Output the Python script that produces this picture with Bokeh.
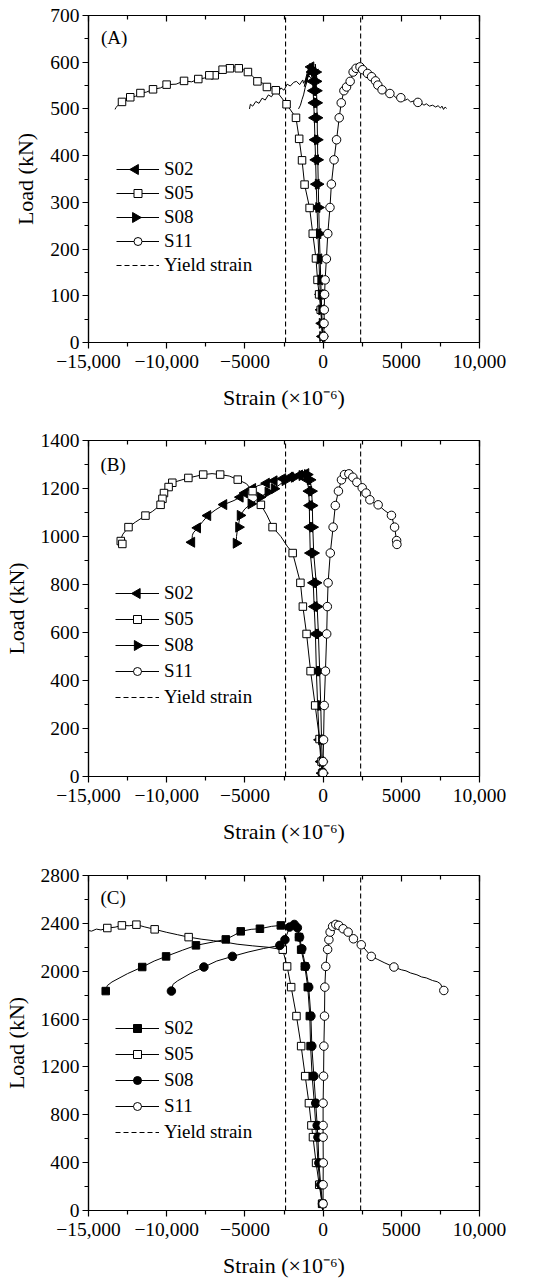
import math
from bokeh.plotting import figure
from bokeh.models import (Range1d, LinearAxis, FixedTicker, Legend, LegendItem, Label,
                          CustomLabelingPolicy)
from bokeh.layouts import column
from bokeh.embed import file_html
from bokeh.resources import INLINE

FONT = "Liberation Serif"
FIG_W = 556

# ---------------- axes / ticks ----------------
X_MIN, X_MAX = -15000, 10000
X_TICKS = [-15000, -10000, -5000, 0, 5000, 10000]
X_MINOR = [-12500, -7500, -2500, 2500, 7500]
X_LABELS = ["\u221215,000", "\u221210,000", "\u22125000", "0", "5000", "10,000"]
YIELD_STRAIN = 2400

A_YTICKS = [0, 100, 200, 300, 400, 500, 600, 700]
A_YMINOR = [50, 150, 250, 350, 450, 550, 650]
B_YTICKS = [0, 200, 400, 600, 800, 1000, 1200, 1400]
B_YMINOR = [100, 300, 500, 700, 900, 1100, 1300]
C_YTICKS = [0, 400, 800, 1200, 1600, 2000, 2400, 2800]
C_YMINOR = [200, 600, 1000, 1400, 1800, 2200, 2600]

SERIES = ["S02", "S05", "S08", "S11"]

# ---------------- data: (strain, load, marker shown) ----------------
# Panel A
A_S02 = [(-20, 0, 0), (-60, 13, 1), (-100, 41, 1), (-140, 70, 1), (-180, 103, 1), (-220, 134, 1),
         (-270, 179, 1), (-330, 233, 1), (-390, 289, 1), (-440, 339, 1), (-480, 391, 1), (-520, 434, 1),
         (-560, 481, 1), (-600, 513, 1), (-640, 539, 1), (-680, 559, 1), (-720, 579, 1), (-780, 590, 1),
         (-950, 570, 0), (-700, 595, 0), (-1100, 555, 0), (-850, 585, 0), (-1200, 548, 0), (-1000, 575, 0),
         (-650, 560, 0), (-900, 592, 0), (-1150, 560, 0), (-800, 578, 0), (-1250, 555, 0),
         (-1300, 562, 0), (-1500, 552, 0), (-1700, 559, 0), (-1876, 557, 0), (-2100, 549, 0), (-2300, 553, 0),
         (-2500, 540, 0), (-2700, 545, 0), (-2900, 533, 0), (-3100, 537, 0), (-3300, 526, 0), (-3500, 530, 0),
         (-3700, 519, 0), (-3900, 523, 0), (-4100, 512, 0), (-4300, 516, 0), (-4500, 506, 0), (-4650, 510, 0),
         (-4707, 500, 0)]
A_S05 = [(-10, 0, 0), (-60, 41, 0), (-152, 70, 1), (-255, 103, 1), (-357, 134, 1), (-455, 180, 1),
         (-660, 233, 1), (-862, 288, 1), (-1184, 338, 1), (-1347, 390, 1), (-1530, 436, 1), (-1733, 481, 1),
         (-2337, 510, 1), (-3026, 540, 1), (-3300, 545, 0), (-3592, 547, 1), (-3900, 556, 0), (-4199, 559, 1),
         (-4500, 570, 0), (-4806, 579, 1), (-5100, 584, 0), (-5393, 587, 1), (-5700, 590, 0), (-5959, 587, 1),
         (-6200, 592, 0), (-6425, 584, 1), (-6700, 578, 0), (-6929, 572, 1), (-7275, 572, 1), (-7600, 566, 0),
         (-7980, 564, 1), (-8400, 558, 0), (-8891, 560, 1), (-9400, 553, 0), (-10005, 552, 1), (-10400, 545, 0),
         (-10874, 542, 1), (-11300, 536, 0), (-11681, 534, 1), (-12000, 527, 0), (-12330, 525, 1),
         (-12600, 518, 0), (-12858, 515, 1), (-13100, 508, 0), (-13250, 503, 0), (-13300, 499, 0)]
A_S08 = [(-10, 0, 0), (-30, 13, 1), (-60, 41, 1), (-90, 70, 1), (-120, 103, 1), (-150, 134, 1),
         (-190, 179, 1), (-240, 233, 1), (-280, 289, 1), (-310, 339, 1), (-340, 391, 1), (-360, 434, 1),
         (-380, 481, 1), (-400, 513, 1), (-420, 539, 1), (-440, 559, 1), (-460, 579, 1),
         (-500, 596, 0), (-380, 560, 0), (-620, 592, 0), (-420, 575, 0), (-760, 597, 0), (-560, 570, 0),
         (-300, 585, 0), (-680, 580, 0), (-862, 597, 0), (-950, 580, 0), (-1000, 562, 0), (-1150, 545, 0),
         (-1250, 530, 0), (-1350, 520, 0), (-1450, 508, 0), (-1571, 500, 0)]
A_S11 = [(0, 0, 0), (40, 13, 1), (60, 41, 1), (75, 70, 1), (95, 103, 1), (130, 134, 1), (210, 179, 1),
         (300, 233, 1), (440, 289, 1), (530, 339, 1), (700, 391, 1), (860, 434, 1), (1030, 481, 1),
         (1160, 513, 1), (1330, 539, 1), (1500, 547, 1), (1730, 559, 1), (1920, 579, 1), (2110, 587, 1),
         (2360, 590, 1), (2530, 584, 1), (2840, 576, 1), (3100, 569, 1), (3350, 560, 1), (3500, 551, 1),
         (3770, 541, 1), (4000, 538, 0), (4270, 533, 1), (4500, 529, 0), (4700, 523, 0), (4970, 524, 1),
         (5200, 518, 0), (5400, 521, 0), (5600, 515, 0), (5800, 517, 0), (6060, 514, 1), (6300, 512, 0),
         (6450, 508, 0), (6600, 511, 0), (6800, 506, 0), (7000, 508, 0), (7200, 504, 0), (7350, 507, 0),
         (7500, 502, 0), (7600, 506, 0), (7700, 499, 0), (7800, 504, 0), (7900, 501, 0)]

# Panel B
B_S02 = [(-30, 0, 0), (-80, 14, 1), (-140, 62, 1), (-240, 153, 1), (-350, 296, 1), (-430, 439, 1),
         (-490, 594, 1), (-570, 708, 1), (-630, 807, 1), (-820, 931, 1), (-860, 1039, 1), (-880, 1129, 1),
         (-920, 1189, 1), (-1000, 1236, 1), (-1100, 1262, 1), (-1300, 1258, 0), (-1500, 1256, 1),
         (-1800, 1250, 0), (-2100, 1248, 1), (-2578, 1241, 1), (-3130, 1232, 1), (-3623, 1222, 1),
         (-4156, 1212, 0), (-4500, 1200, 1), (-4807, 1192, 0), (-5004, 1181, 1), (-5300, 1164, 1),
         (-5695, 1150, 0), (-6346, 1133, 1), (-6900, 1110, 0), (-7372, 1087, 1), (-7700, 1062, 0),
         (-8023, 1036, 1), (-8300, 1015, 0), (-8358, 1005, 0), (-8398, 976, 1)]
B_S05 = [(-20, 0, 0), (-60, 14, 1), (-100, 62, 1), (-227, 156, 1), (-507, 296, 1), (-800, 439, 1),
         (-1057, 594, 1), (-1294, 708, 1), (-1451, 807, 1), (-1945, 931, 1), (-2300, 960, 0),
         (-2700, 1000, 0), (-3229, 1039, 1), (-3600, 1090, 0), (-3978, 1132, 1), (-4200, 1165, 0),
         (-4511, 1189, 1), (-4900, 1220, 0), (-5458, 1237, 1), (-6000, 1252, 0), (-6583, 1258, 1),
         (-7100, 1262, 0), (-7668, 1258, 1), (-8615, 1244, 1), (-9641, 1224, 1), (-9878, 1206, 1),
         (-10174, 1181, 1), (-10272, 1157, 1), (-10391, 1132, 1), (-10900, 1105, 0), (-11358, 1087, 1),
         (-12000, 1060, 0), (-12443, 1039, 1), (-12800, 1010, 0), (-12900, 995, 0), (-12936, 981, 1),
         (-12837, 969, 1)]
B_S08 = [(-10, 0, 0), (-30, 14, 1), (-50, 62, 1), (-100, 153, 1), (-150, 296, 1), (-220, 439, 1),
         (-300, 594, 1), (-380, 708, 1), (-440, 807, 1), (-600, 931, 1), (-660, 1039, 1), (-690, 1129, 1),
         (-730, 1189, 1), (-820, 1236, 1), (-1000, 1258, 1), (-1150, 1265, 0), (-1353, 1254, 1),
         (-1846, 1247, 1), (-2439, 1233, 1), (-2800, 1215, 0), (-3130, 1199, 1), (-3525, 1185, 1),
         (-4020, 1164, 1), (-4300, 1150, 0), (-4612, 1136, 1), (-5000, 1115, 0), (-5303, 1088, 1),
         (-5380, 1060, 0), (-5400, 1039, 1), (-5500, 1018, 0), (-5537, 1000, 0), (-5560, 972, 1)]
B_S11 = [(0, 0, 0), (0, 14, 1), (0, 62, 1), (30, 153, 1), (70, 296, 1), (150, 439, 1), (230, 594, 1),
         (270, 708, 1), (320, 807, 1), (460, 931, 1), (640, 1039, 1), (780, 1129, 1), (980, 1189, 1),
         (1175, 1236, 1), (1370, 1258, 1), (1650, 1261, 1), (1900, 1247, 1), (2160, 1226, 1),
         (2500, 1203, 1), (2750, 1181, 1), (2990, 1153, 1), (3250, 1140, 0), (3520, 1132, 1),
         (3900, 1110, 0), (4370, 1088, 1), (4570, 1039, 1), (4700, 983, 1), (4720, 967, 1)]

# Panel C
C_S02 = [(-30, 0, 0), (-60, 56, 1), (-200, 215, 1), (-330, 398, 1), (-420, 613, 1), (-470, 711, 1),
         (-560, 897, 1), (-700, 1123, 1), (-800, 1374, 1), (-850, 1625, 1), (-980, 1867, 1),
         (-1170, 2040, 1), (-1405, 2180, 1), (-1544, 2285, 1), (-1800, 2370, 0), (-2000, 2395, 0),
         (-2300, 2388, 0), (-2703, 2383, 1), (-3300, 2375, 0), (-4039, 2355, 1), (-4600, 2350, 0),
         (-5267, 2333, 1), (-5700, 2300, 0), (-6221, 2266, 1), (-7000, 2245, 0), (-8130, 2216, 1),
         (-9000, 2175, 0), (-10038, 2124, 1), (-10800, 2085, 0), (-11565, 2035, 1), (-12500, 1980, 0),
         (-13500, 1910, 0), (-13800, 1880, 0), (-13899, 1834, 1)]
C_S05 = [(-20, 0, 0), (-60, 56, 1), (-249, 215, 1), (-448, 398, 1), (-647, 613, 1), (-747, 711, 1),
         (-906, 897, 1), (-1145, 1123, 1), (-1404, 1374, 1), (-1703, 1625, 1), (-2042, 1867, 1),
         (-2301, 2040, 1), (-2580, 2180, 1), (-3500, 2200, 0), (-4500, 2212, 0), (-5500, 2226, 0),
         (-6125, 2240, 0), (-7000, 2255, 0), (-7800, 2268, 0), (-8598, 2285, 1), (-9300, 2305, 0),
         (-10000, 2325, 0), (-10771, 2350, 1), (-11400, 2370, 0), (-11935, 2389, 1), (-12400, 2380, 0),
         (-12866, 2383, 1), (-13300, 2368, 0), (-13797, 2361, 1), (-14200, 2345, 0), (-14500, 2352, 0),
         (-14800, 2335, 0), (-15000, 2340, 0)]
C_S08 = [(-20, 0, 0), (-40, 56, 1), (-150, 215, 1), (-270, 398, 1), (-330, 613, 1), (-380, 711, 1),
         (-470, 897, 1), (-590, 1123, 1), (-720, 1374, 1), (-780, 1625, 1), (-920, 1867, 1),
         (-1120, 2040, 1), (-1360, 2188, 1), (-1504, 2285, 1), (-1643, 2363, 1), (-1842, 2391, 1),
         (-2141, 2369, 1), (-2440, 2263, 1), (-2766, 2216, 1), (-3800, 2190, 0), (-4800, 2160, 0),
         (-5798, 2124, 1), (-6800, 2085, 0), (-7621, 2035, 1), (-8500, 1980, 0), (-9300, 1920, 0),
         (-9600, 1890, 0), (-9699, 1834, 1)]
C_S11 = [(0, 0, 0), (0, 56, 1), (0, 215, 1), (10, 398, 1), (0, 613, 1), (0, 711, 1), (0, 897, 1),
         (30, 1123, 1), (50, 1374, 1), (90, 1625, 1), (110, 1867, 1), (170, 2040, 1), (290, 2182, 1),
         (370, 2263, 1), (450, 2327, 1), (610, 2375, 1), (810, 2391, 1), (1000, 2383, 1), (1280, 2355, 1),
         (1600, 2327, 1), (1940, 2271, 1), (2440, 2221, 1), (3080, 2124, 1), (3500, 2098, 0),
         (3900, 2072, 0), (4530, 2035, 1), (5000, 2012, 0), (5300, 2003, 0), (5600, 1985, 0),
         (6000, 1970, 0), (6300, 1952, 0), (6600, 1944, 0), (7000, 1922, 0), (7300, 1912, 0),
         (7500, 1895, 0), (7720, 1839, 1)]

PANELS = [
    dict(tag="(A)", tag_x=-14200, tag_y=653, ymax=700, yt=A_YTICKS, ym=A_YMINOR,
         data=[A_S02, A_S05, A_S08, A_S11],
         markers=["tri_left", "sq_open", "tri_right", "ci_open"],
         height=430, bl=77, br=67, bt=15, bb=88, leg=(28, 65), row=24, gw=43),
    dict(tag="(B)", tag_x=-14237, tag_y=1300, ymax=1400, yt=B_YTICKS, ym=B_YMINOR,
         data=[B_S02, B_S05, B_S08, B_S11],
         markers=["tri_left", "sq_open", "tri_right", "ci_open"],
         height=430, bl=86, br=77, bt=10, bb=84, leg=(27, 66), row=26, gw=44),
    dict(tag="(C)", tag_x=-14237, tag_y=2613, ymax=2800, yt=C_YTICKS, ym=C_YMINOR,
         data=[C_S02, C_S05, C_S08, C_S11],
         markers=["sq_fill", "sq_open", "ci_fill", "ci_open"],
         height=425, bl=86, br=77, bt=15, bb=75, leg=(27, 65), row=26, gw=44),
]

MARKER_STYLE = {
    "tri_left": dict(marker="triangle", angle=math.pi / 2, size=10, fill_color="black"),
    "tri_right": dict(marker="triangle", angle=-math.pi / 2, size=10, fill_color="black"),
    "sq_open": dict(marker="square", angle=0, size=7.5, fill_color="white"),
    "sq_fill": dict(marker="square", angle=0, size=7.5, fill_color="black"),
    "ci_open": dict(marker="circle", angle=0, size=8.5, fill_color="white"),
    "ci_fill": dict(marker="circle", angle=0, size=8.5, fill_color="black"),
}

NO_LABELS = CustomLabelingPolicy(code="return []")


def style_axis(ax, side):
    ax.axis_line_color = "black"
    ax.axis_line_width = 1.2
    ax.major_tick_line_color = "black"
    ax.minor_tick_line_color = "black"
    ax.major_tick_line_width = 1.2
    ax.minor_tick_line_width = 1.2
    if side in ("left", "below"):
        ax.major_tick_out = 6
        ax.major_tick_in = 0
        ax.minor_tick_out = 4
        ax.minor_tick_in = 0
        ax.major_label_text_font = FONT
        ax.major_label_text_font_size = "19.5px"
        ax.major_label_text_color = "black"
        ax.axis_label_text_font = FONT
        ax.axis_label_text_font_size = "22px"
        ax.axis_label_text_font_style = "normal"
        ax.axis_label_text_color = "black"
    else:
        ax.major_tick_out = 0
        ax.major_tick_in = 6
        ax.minor_tick_out = 0
        ax.minor_tick_in = 4
        ax.major_label_policy = NO_LABELS
        ax.major_label_text_font_size = "1px"
        ax.major_label_standoff = 0


def build(cfg):
    p = figure(width=FIG_W, height=cfg["height"],
               x_range=Range1d(X_MIN, X_MAX), y_range=Range1d(0, cfg["ymax"]),
               output_backend="svg", toolbar_location=None,
               min_border_left=cfg["bl"], min_border_right=cfg["br"],
               min_border_top=cfg["bt"], min_border_bottom=cfg["bb"])
    p.grid.visible = False
    p.outline_line_color = "black"
    p.outline_line_width = 1.2
    p.background_fill_color = "white"
    p.border_fill_color = "white"

    xax = p.xaxis[0]
    xax.ticker = FixedTicker(ticks=X_TICKS, minor_ticks=X_MINOR)
    xax.major_label_overrides = {t: l for t, l in zip(X_TICKS, X_LABELS)}
    xax.axis_label = "Strain (\u00d710\u207b\u2076)"
    style_axis(xax, "below")
    xax.major_label_standoff = 6
    xax.axis_label_standoff = 14
    yax = p.yaxis[0]
    yax.ticker = FixedTicker(ticks=cfg["yt"], minor_ticks=cfg["ym"])
    yax.axis_label = "Load (kN)"
    style_axis(yax, "left")
    yax.major_label_standoff = 3
    yax.axis_label_standoff = 9

    top = LinearAxis(ticker=FixedTicker(ticks=X_TICKS, minor_ticks=X_MINOR))
    style_axis(top, "above")
    p.add_layout(top, "above")
    right = LinearAxis(ticker=FixedTicker(ticks=cfg["yt"], minor_ticks=cfg["ym"]))
    style_axis(right, "right")
    p.add_layout(right, "right")

    ymax = cfg["ymax"]
    y1 = p.line([-YIELD_STRAIN, -YIELD_STRAIN], [0, ymax], line_color="black",
                line_width=1.1, line_dash="5 3")
    p.line([YIELD_STRAIN, YIELD_STRAIN], [0, ymax], line_color="black",
           line_width=1.1, line_dash="5 3")

    # legend geometry (screen px from frame bottom-left) -> data units, for rotated markers
    frame_w = FIG_W - cfg["bl"] - cfg["br"]
    frame_h = cfg["height"] - cfg["bt"] - cfg["bb"]
    lx, ly = cfg["leg"]
    nrows = len(SERIES) + 1

    items = []
    for i, (name, pts, mk) in enumerate(zip(SERIES, cfg["data"], cfg["markers"])):
        xs = [q[0] for q in pts]
        ys = [q[1] for q in pts]
        rl = p.line(xs, ys, line_color="black", line_width=1)
        mx = [q[0] for q in pts if q[2]]
        my = [q[1] for q in pts if q[2]]
        st = MARKER_STYLE[mk]
        rm = p.scatter(mx, my, marker=st["marker"], angle=st["angle"], size=st["size"],
                       fill_color=st["fill_color"], line_color="black", line_width=1)
        if st["angle"] != 0:
            # legends ignore marker rotation: draw the rotated legend key separately
            items.append(LegendItem(label=name, renderers=[rl]))
            kx = X_MIN + (lx + cfg["gw"] / 2) * (X_MAX - X_MIN) / frame_w
            ky = (ly + (nrows - i - 0.5) * cfg["row"]) * ymax / frame_h
            p.scatter([kx], [ky], marker=st["marker"], angle=st["angle"], size=st["size"],
                      fill_color=st["fill_color"], line_color="black", line_width=1,
                      level="overlay")
        else:
            items.append(LegendItem(label=name, renderers=[rl, rm]))
    items.append(LegendItem(label="Yield strain", renderers=[y1]))

    leg = Legend(items=items, location=cfg["leg"])
    leg.padding = 0
    leg.margin = 0
    leg.spacing = 0
    leg.border_line_color = None
    leg.background_fill_alpha = 0
    leg.glyph_width = cfg["gw"]
    leg.glyph_height = 20
    leg.label_height = cfg["row"]
    leg.label_standoff = 5
    leg.label_text_font = FONT
    leg.label_text_font_size = "19px"
    leg.label_text_color = "black"
    p.add_layout(leg)

    p.add_layout(Label(x=cfg["tag_x"], y=cfg["tag_y"], text=cfg["tag"], text_font=FONT,
                       text_font_size="19px", text_color="black", text_baseline="middle",
                       text_align="left"))
    return p


figs = [build(c) for c in PANELS]
layout = column(*figs, spacing=0)
open("out.html", "w").write(file_html(layout, INLINE))
